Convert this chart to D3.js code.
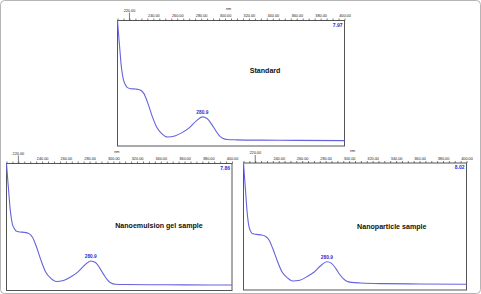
<!DOCTYPE html>
<html>
<head>
<meta charset="utf-8">
<script src="https://cdn.jsdelivr.net/npm/d3@7"></script>
<style>
  body { margin: 0; background: #fff; }
  svg { display: block; font-family: "Liberation Sans", Arial, sans-serif; }
</style>
</head>
<body>
<div class="chart"></div>
<script>
// wavelengths (nm)
const wavelengths = [210, 211, 212, 213, 214, 215, 216.5, 218, 221, 225, 229, 232, 235, 239, 243, 247, 252, 258, 264, 270, 276, 281, 285, 289, 292, 295, 298, 302, 310, 330, 360, 400]

const absStandard = [7.97, 7.0, 6.1, 5.2, 4.6, 4.2, 3.9, 3.72, 3.64, 3.62, 3.56, 3.34, 2.8, 1.9, 1.17, 0.79, 0.57, 0.64, 0.85, 1.15, 1.6, 1.85, 1.75, 1.36, 1.0, 0.68, 0.49, 0.41, 0.39, 0.37, 0.36, 0.34]
const absGel      = [7.86, 6.9, 6.0, 5.1, 4.5, 4.1, 3.85, 3.68, 3.62, 3.6, 3.52, 3.28, 2.75, 1.88, 1.15, 0.78, 0.555, 0.62, 0.84, 1.14, 1.58, 1.83, 1.73, 1.34, 0.98, 0.66, 0.47, 0.39, 0.37, 0.36, 0.35, 0.34]
const absNano     = [8.02, 7.0, 6.0, 5.0, 4.3, 3.9, 3.65, 3.55, 3.51, 3.48, 3.38, 3.12, 2.6, 1.8, 1.12, 0.8, 0.57, 0.62, 0.84, 1.12, 1.55, 1.78, 1.68, 1.32, 0.98, 0.72, 0.55, 0.48, 0.44, 0.40, 0.38, 0.36]

const panelTitles = ["Standard", "Nanoemulsion gel sample", "Nanoparticle sample"]
const panelMax = [7.97, 7.86, 8.02]
const peakLabels = ["280.9", "280.9", "280.9"]
const peakWl = 281
const tickWl = d3.range(210, 401, 5)

const W = 481, H = 294

const svg = d3.select(".chart").append("svg")
  .attr("width", W).attr("height", H)

// outer frame
svg.append("rect")
  .attr("x", 0.5).attr("y", 0.5).attr("width", W - 1).attr("height", H - 1)
  .attr("rx", 4).attr("fill", "none").attr("stroke", "#b5b5b5")

// boxes of the three plots
const boxes = [
  {x0: 117.5, x1: 344.5, y0: 20.5, y1: 146, tx: 0.65, ty: 0.40},
  {x0: 6.5,   x1: 232,   y0: 163.5, y1: 290.5, tx: 0.676, ty: 0.49},
  {x0: 243.5, x1: 466.5, y0: 163, y1: 290, tx: 0.665, ty: 0.50}
]
const series = [absStandard, absGel, absNano]

boxes.forEach((b, i) => drawPanel(b, series[i], i))

function drawPanel(b, values, i) {
  const x = d3.scaleLinear().domain([210, 400]).range([b.x0, b.x1])
  const y = d3.scaleLinear().domain([0, panelMax[i]]).range([b.y1, b.y0])

  const g = svg.append("g")

  g.append("rect")
    .attr("x", b.x0).attr("y", b.y0)
    .attr("width", b.x1 - b.x0).attr("height", b.y1 - b.y0)
    .attr("fill", "#fff").attr("stroke", "#555").attr("stroke-width", 1)

  const axis = d3.axisTop(x)
    .tickValues(tickWl)
    .tickSize(2)
    .tickSizeOuter(0)
    .tickPadding(1.5)
    .tickFormat(d => d % 20 === 0 && d !== 220 ? d.toFixed(2) : "")

  const ax = g.append("g")
    .attr("transform", `translate(0,${b.y0})`)
    .call(axis)
  ax.select(".domain").remove()
  ax.selectAll(".tick line").attr("stroke", "#444").attr("stroke-width", 0.7)
  ax.selectAll(".tick text")
    .attr("font-size", 3.8).attr("fill", "#222")
    .attr("font-family", "Liberation Sans, Arial, sans-serif")

  // start wavelength marker
  g.append("line")
    .attr("x1", x(220)).attr("x2", x(220))
    .attr("y1", b.y0 - 8).attr("y2", b.y0)
    .attr("stroke", "#444").attr("stroke-width", 0.7)
  g.append("text")
    .attr("x", x(220)).attr("y", b.y0 - 9)
    .attr("text-anchor", "middle")
    .attr("font-size", 3.8).attr("fill", "#222")
    .text("220.00")

  g.append("text")
    .attr("x", x(303)).attr("y", b.y0 - 11)
    .attr("text-anchor", "middle")
    .attr("font-size", 3.8).attr("fill", "#222")
    .text("nm")

  const line = d3.line()
    .x((d, k) => x(wavelengths[k]))
    .y(d => y(d))
    .curve(d3.curveMonotoneX)

  g.append("path")
    .datum(values)
    .attr("d", line)
    .attr("fill", "none")
    .attr("stroke", "#6464dc")
    .attr("stroke-width", 1.1)

  g.append("text")
    .attr("x", b.x1 - 2).attr("y", b.y0 + 6)
    .attr("text-anchor", "end")
    .attr("font-size", 5).attr("font-weight", "bold")
    .attr("fill", "#2a2ad0")
    .text(panelMax[i].toFixed(2))

  const pk = values[wavelengths.indexOf(peakWl)]
  g.append("text")
    .attr("x", x(peakWl)).attr("y", y(pk) - 3)
    .attr("text-anchor", "middle")
    .attr("font-size", 4.8).attr("font-weight", "bold")
    .attr("fill", "#2a2ad0")
    .text(peakLabels[i])

  g.append("text")
    .attr("x", b.x0 + b.tx * (b.x1 - b.x0))
    .attr("y", b.y0 + b.ty * (b.y1 - b.y0) + 2.5)
    .attr("text-anchor", "middle")
    .attr("font-size", 7.1).attr("font-weight", "bold")
    .attr("fill", "#111")
    .text(panelTitles[i])
}
</script>
</body>
</html>
